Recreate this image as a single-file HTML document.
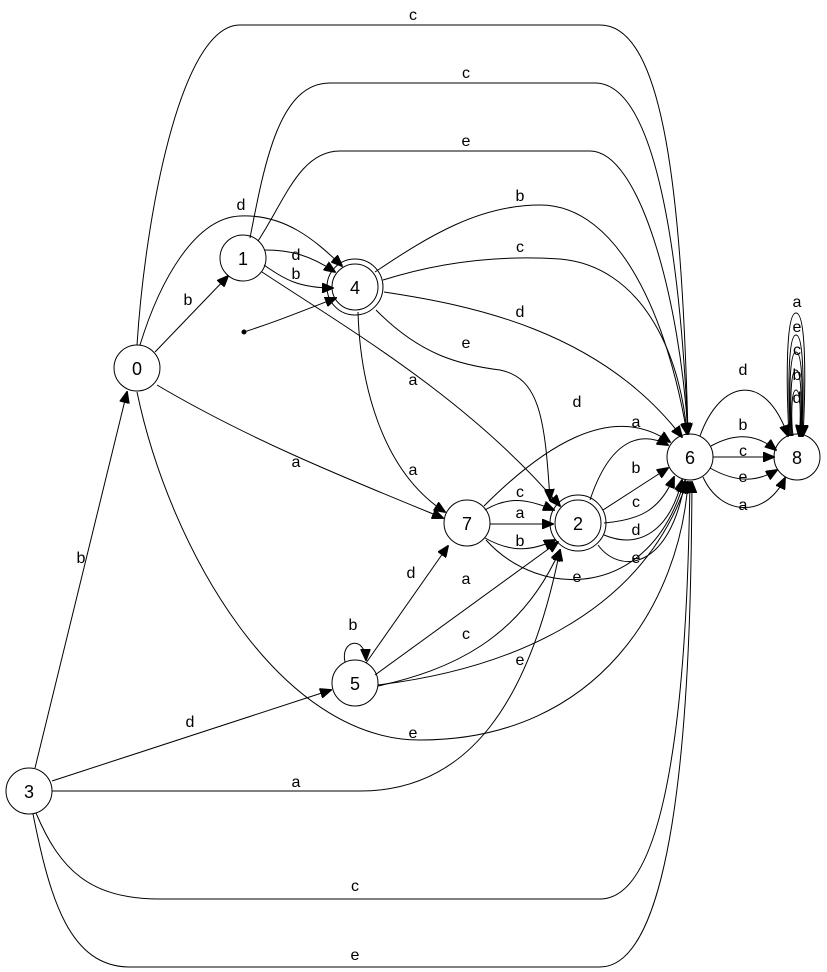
<!DOCTYPE html>
<html><head><meta charset="utf-8"><style>
html,body{margin:0;padding:0;background:#fff;}
svg{display:block;}
text{font-family:"Liberation Sans",sans-serif;font-size:16px;text-anchor:middle;fill:#000;}
text.n{font-size:18px;}
path,line{fill:none;stroke:#000;stroke-width:1;}
circle{fill:none;stroke:#000;stroke-width:1;}
</style></head><body>
<svg width="827" height="972" viewBox="0 0 827 972" xmlns="http://www.w3.org/2000/svg">
<defs>
<marker id="a" markerUnits="userSpaceOnUse" markerWidth="12" markerHeight="10" refX="11" refY="5" orient="auto">
<path d="M0,0 L12,5 L0,10 Z" style="fill:#000;stroke:#000"/>
</marker>
</defs>
<g marker-end="url(#a)">
<path d="M137,345 C145,220 180,25 240,25 L600,25 C665,25 682,200 688,434"/>
<path d="M250,238 C265,160 280,83 330,83 L595,83 C655,83 680,250 688,434"/>
<path d="M258,241 C285,200 300,151 340,151 L590,151 C640,151 680,300 688,434"/>
<path d="M375,272 C430,235 480,205 540,205 C620,205 668,320 687,434"/>
<path d="M383,280 C440,262 500,255 560,259 C640,266 680,350 687,434"/>
<path d="M384,292 C470,305 600,330 682,437"/>
<path d="M140,345 C160,280 195,218 240,216 C285,214 315,240 342,266"/>
<path d="M265,250 C290,250 310,255 335,272"/>
<path d="M264,265 C285,280 300,288 333,288"/>
<path d="M244,332 C275,322 300,312 336,298"/>
<path d="M155,352 L228,276"/>
<path d="M262,272 C350,330 470,400 560,506"/>
<path d="M376,310 C420,355 460,365 500,370 C540,378 545,420 550,500"/>
<path d="M485,510 C510,495 530,500 554,510"/>
<path d="M490,524 L553,524"/>
<path d="M485,538 C510,552 530,552 555,540"/>
<path d="M375,675 L558,542"/>
<path d="M378,686 C450,670 520,640 560,550"/>
<path d="M52,791 L360,791 C470,791 530,700 560,550"/>
<path d="M358,312 C360,380 380,470 445,512"/>
<path d="M157,385 C250,440 350,480 443,518"/>
<path d="M366,663 L448,546"/>
<path d="M137,392 C170,550 280,740 420,740 C600,740 680,600 688,482"/>
<path d="M35,768 L127,392"/>
<path d="M52,781 L331,690"/>
<path d="M36,813 C60,870 90,899 160,899 L600,899 C682,899 688,600 690,482"/>
<path d="M33,814 C50,900 70,967 130,967 L600,967 C690,967 691,600 692,482"/>
<path d="M345,662 C340,640 365,635 366,660"/>
<path d="M378,685 C500,670 640,620 687,482"/>
<path d="M484,506 C540,450 610,400 670,442"/>
<path d="M486,540 C540,600 650,600 684,482"/>
<path d="M590,500 C610,440 640,430 668,445"/>
<path d="M603,510 L668,468"/>
<path d="M604,523 C640,520 660,510 674,477"/>
<path d="M604,535 C640,550 670,530 682,480"/>
<path d="M598,545 C620,575 670,570 685,481"/>
<path d="M700,436 C720,380 765,370 788,436"/>
<path d="M711,446 C740,430 760,437 776,450"/>
<path d="M713,457 L774,457"/>
<path d="M710,468 C740,485 760,480 777,470"/>
<path d="M703,477 C720,515 765,520 785,478"/>
<path d="M789,436 C786,380 786,313 796,313 C806,313 806,380 803,436"/>
<path d="M790,436 C788,390 788,335 796,335 C804,335 804,390 802,436"/>
<path d="M791,436 C789,400 789,352 796,352 C803,352 803,400 801,436"/>
<path d="M792,436 C790,410 790,370 796,370 C802,370 802,410 800,436"/>
<path d="M793,436 C791,420 791,390 796,390 C801,390 801,420 799,436"/>
</g>
<circle cx="137" cy="368" r="23"/>
<circle cx="243" cy="258" r="23"/>
<circle cx="355" cy="287" r="23"/><circle cx="355" cy="287" r="28"/>
<circle cx="467" cy="523" r="23"/>
<circle cx="578" cy="523" r="23"/><circle cx="578" cy="523" r="28"/>
<circle cx="690" cy="457" r="23"/>
<circle cx="797" cy="457" r="23"/>
<circle cx="355" cy="683" r="23"/>
<circle cx="29" cy="791" r="23"/>
<circle cx="244" cy="332" r="2" style="fill:#000"/>
<text class="n" x="137" y="375">0</text><text class="n" x="243" y="265">1</text><text class="n" x="355" y="294">4</text>
<text class="n" x="467" y="530">7</text><text class="n" x="578" y="530">2</text><text class="n" x="690" y="464">6</text>
<text class="n" x="797" y="464">8</text><text class="n" x="355" y="690">5</text><text class="n" x="29" y="798">3</text>
<text x="413" y="20">c</text><text x="466" y="78">c</text><text x="466" y="146">e</text>
<text x="520" y="201">b</text><text x="520" y="252">c</text><text x="520" y="317">d</text>
<text x="241" y="210">d</text><text x="296" y="260">d</text><text x="296" y="279">b</text>
<text x="188" y="305">b</text><text x="413" y="385">a</text><text x="466" y="348">e</text>
<text x="413" y="475">a</text><text x="296" y="467">a</text>
<text x="577" y="407">d</text><text x="636" y="427">a</text><text x="636" y="473">b</text>
<text x="636" y="507">c</text><text x="636" y="535">d</text><text x="636" y="563">e</text>
<text x="577" y="582">e</text>
<text x="520" y="497">c</text><text x="520" y="518">a</text><text x="520" y="546">b</text>
<text x="411" y="578">d</text><text x="466" y="584">a</text><text x="466" y="639">c</text>
<text x="520" y="665">e</text><text x="353" y="630">b</text><text x="413" y="738">e</text>
<text x="81" y="563">b</text><text x="190" y="727">d</text><text x="296" y="787">a</text>
<text x="355" y="891">c</text><text x="355" y="960">e</text>
<text x="743" y="375">d</text><text x="743" y="430">b</text><text x="743" y="456">c</text>
<text x="743" y="482">e</text><text x="743" y="510">a</text>
<text x="797" y="307">a</text><text x="797" y="332">e</text><text x="797" y="355">c</text>
<text x="797" y="380">b</text><text x="797" y="403">d</text>
</svg>
</body></html>
